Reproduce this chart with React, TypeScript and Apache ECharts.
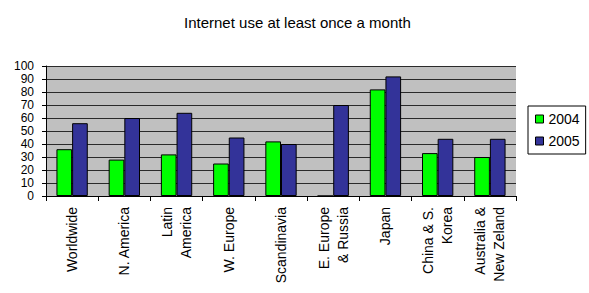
import React, { useEffect, useRef } from "react";
import * as echarts from "echarts";

const categories = [
  "Worldwide",
  "N. America",
  "Latin\nAmerica",
  "W. Europe",
  "Scandinavia",
  "E. Europe\n& Russia",
  "Japan",
  "China & S.\nKorea",
  "Australia &\nNew Zeland",
];
const values2004 = [36, 28, 32, 25, 42, 0, 82, 33, 30];
const values2005 = [56, 60, 64, 45, 40, 70, 92, 44, 44];
const seriesNames = ["2004", "2005"];
const titleText = "Internet use at least once a month";

const FONT = "'Liberation Sans', Arial, Helvetica, sans-serif";

export default function App() {
  const ref = useRef<HTMLDivElement>(null);
  useEffect(() => {
    document.body.style.margin = "0";
    if (!ref.current) return;
    const chart = echarts.init(ref.current, null, { renderer: "svg" });
    chart.setOption({
      animation: false,
      backgroundColor: "#ffffff",
      title: {
        text: titleText,
        left: 179,
        top: 10,
        textStyle: { fontFamily: FONT, fontSize: 15, fontWeight: "normal", color: "#000" },
      },
      legend: {
        orient: "vertical",
        left: 528,
        top: 106,
        padding: [6, 6, 6, 7],
        itemWidth: 8,
        itemHeight: 8,
        itemGap: 8,
        icon: "rect",
        borderColor: "#000",
        borderWidth: 1,
        backgroundColor: "#fff",
        itemStyle: { borderColor: "#000", borderWidth: 1 },
        textStyle: { fontFamily: FONT, fontSize: 14, color: "#000" },
        data: seriesNames,
      },
      grid: { left: 46, right: 73, top: 66, bottom: 97, containLabel: false, show: true, backgroundColor: "#c0c0c0", borderWidth: 0 },
      xAxis: {
        type: "category",
        data: categories,
        axisLine: { show: true, lineStyle: { color: "#000", width: 1 } },
        axisTick: { show: true, length: 5, alignWithLabel: false, lineStyle: { color: "#000" } },
        axisLabel: {
          rotate: 90,
          interval: 0,
          margin: 11,
          fontFamily: FONT,
          fontSize: 14,
          lineHeight: 19,
          color: "#000",
        },
      },
      yAxis: {
        type: "value",
        min: 0,
        max: 100,
        interval: 10,
        axisLine: { show: true, lineStyle: { color: "#000", width: 1 } },
        axisTick: { show: true, length: 4, lineStyle: { color: "#000" } },
        axisLabel: { margin: 12, fontFamily: FONT, fontSize: 12, lineHeight: 12, color: "#000" },
        splitLine: { show: true, lineStyle: { color: "#2a2a2a", width: 1 } },
      },
      series: [
        {
          name: seriesNames[0],
          type: "bar",
          data: values2004,
          barGap: "0%",
          barCategoryGap: "40%",
          itemStyle: { color: "#00ff00", borderColor: "#000", borderWidth: 1 },
        },
        {
          name: seriesNames[1],
          type: "bar",
          data: values2005,
          barGap: "0%",
          barCategoryGap: "40%",
          itemStyle: { color: "#333399", borderColor: "#000", borderWidth: 1 },
        },
      ],
    });
    return () => chart.dispose();
  }, []);
  return <div ref={ref} style={{ width: 589, height: 293 }} />;
}
